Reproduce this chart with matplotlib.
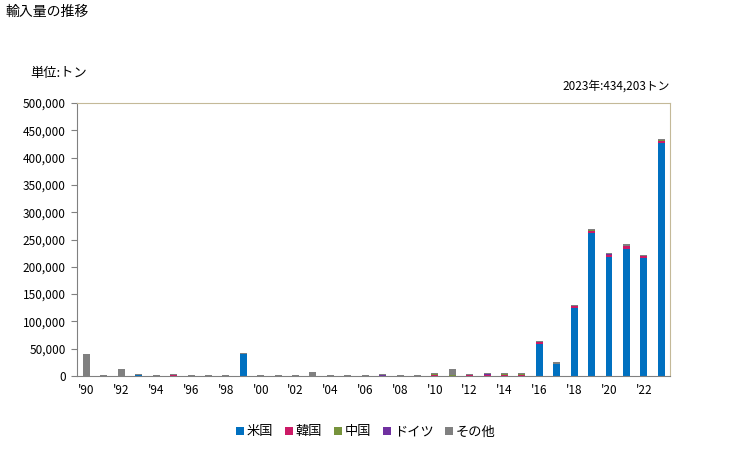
import matplotlib.pyplot as plt
import numpy as np

plt.rcParams['font.family'] = ['Noto Sans CJK JP', 'DejaVu Sans']

years = list(range(1990, 2024))
tick_labels = ["'%02d" % (y % 100) for y in years]

# 単位: トン
usa = [0, 0, 0, 2000, 0, 0, 0, 0, 0, 41000, 0, 0, 0, 0, 0, 0, 0, 0, 0, 0,
       0, 0, 0, 0, 0, 0, 59500, 22800, 125000, 261500, 218000, 232500, 216800, 426000]
korea = [0, 0, 0, 0, 0, 2000, 0, 0, 0, 0, 0, 0, 0, 0, 0, 0, 0, 0, 0, 0,
         1500, 0, 2000, 1500, 1500, 1500, 2000, 0, 3500, 4000, 3500, 5000, 3000, 4500]
china = [0, 0, 0, 0, 0, 0, 0, 0, 0, 0, 0, 0, 0, 0, 0, 0, 0, 0, 0, 0,
         2500, 1500, 0, 0, 2500, 2500, 0, 0, 0, 2000, 0, 1000, 0, 2000]
germany = [0, 0, 0, 0, 0, 0, 0, 0, 0, 0, 0, 0, 0, 0, 0, 0, 0, 1500, 0, 0,
           0, 0, 0, 2000, 0, 0, 1000, 0, 0, 0, 2000, 0, 0, 0]
others = [40500, 1500, 13000, 1500, 1500, 1500, 1500, 1500, 1500, 1500, 1500, 1500, 1500, 7000,
          1500, 1500, 1500, 1500, 1500, 1500, 1000, 10500, 1500, 1500, 1000, 1000,
          1500, 2500, 2500, 2000, 1500, 3000, 2500, 1703]

series = [("米国", usa, "#0070c0"), ("韓国", korea, "#cc1a66"), ("中国", china, "#77933c"),
          ("ドイツ", germany, "#7030a0"), ("その他", others, "#808080")]

fig = plt.figure(figsize=(7.29, 4.5), dpi=100)
ax = fig.add_axes([0.1056, 0.1644, 0.8134, 0.6066])

x = np.arange(len(years))
bottom = np.zeros(len(years))
for name, vals, color in series:
    ax.bar(x, vals, width=0.4, bottom=bottom, color=color, label=name)
    bottom += np.array(vals)

ax.set_xlim(-0.55, len(years) - 0.5)
ax.set_ylim(0, 500000)
ax.set_yticks(np.arange(0, 500001, 50000))
ax.set_yticklabels([f"{v:,}" for v in range(0, 500001, 50000)], fontsize=8.5)
ax.set_xticks(x[::2])
ax.set_xticklabels(tick_labels[::2], fontsize=8.5)
ax.tick_params(axis='x', length=0, pad=6)
ax.tick_params(axis='y', length=4, color='#808080', pad=4)

for side in ['top', 'right']:
    ax.spines[side].set_color('#c4b998')
for side in ['left', 'bottom']:
    ax.spines[side].set_color('#808080')

fig.text(5 / 729, 1 - 12 / 450, "輸入量の推移", fontsize=10, va='center', ha='left')
fig.text(30 / 729, 1 - 73 / 450, "単位:トン", fontsize=9.5, va='center', ha='left')
fig.text(670 / 729, 1 - 86 / 450, "2023年:434,203トン", fontsize=8.5, va='center', ha='right')

fig.legend(loc='center', bbox_to_anchor=(366 / 729, 1 - 432 / 450), ncol=5, frameon=False,
           fontsize=9.5, handlelength=0.6, handleheight=0.6, handletextpad=0.2, columnspacing=0.9)

fig.savefig("out.png", dpi=100)
